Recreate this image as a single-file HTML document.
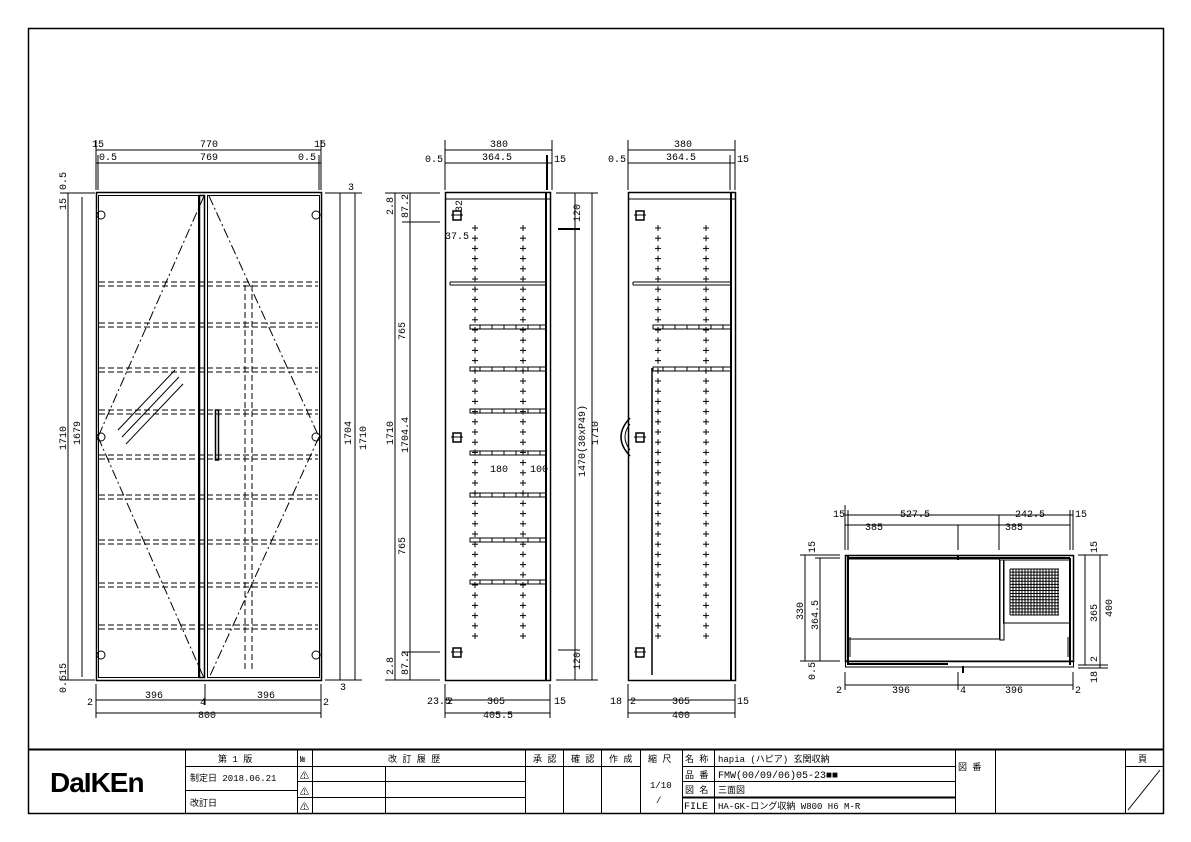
<!DOCTYPE html>
<html><head><meta charset="utf-8"><style>
html,body{margin:0;padding:0;background:#fff;width:1191px;height:842px;overflow:hidden}
svg{display:block}
text{font-family:"Liberation Mono","Noto Sans CJK JP",monospace;font-size:10px;fill:#000}
.t{font-size:9px}
</style></head><body>
<svg id="s" width="1191" height="842" viewBox="0 0 1191 842" xmlns="http://www.w3.org/2000/svg" stroke="#000" fill="none" stroke-width="1">
<rect x="28.5" y="28.5" width="1135" height="785" stroke-width="1.5"/>
<line x1="28" y1="749.5" x2="1163" y2="749.5" stroke-width="2"/>
<line x1="185.5" y1="750" x2="185.5" y2="813"/>
<line x1="297.5" y1="750" x2="297.5" y2="813"/>
<line x1="312.5" y1="750" x2="312.5" y2="813"/>
<line x1="385.5" y1="766" x2="385.5" y2="813"/>
<line x1="525.5" y1="750" x2="525.5" y2="813"/>
<line x1="563.5" y1="750" x2="563.5" y2="813"/>
<line x1="601.5" y1="750" x2="601.5" y2="813"/>
<line x1="640.5" y1="750" x2="640.5" y2="813"/>
<line x1="682.5" y1="750" x2="682.5" y2="813"/>
<line x1="714.5" y1="750" x2="714.5" y2="813"/>
<line x1="955.5" y1="750" x2="955.5" y2="813"/>
<line x1="995.5" y1="750" x2="995.5" y2="813"/>
<line x1="1125.5" y1="750" x2="1125.5" y2="813"/>
<line x1="185" y1="766.5" x2="640" y2="766.5"/>
<line x1="1125" y1="766.5" x2="1163" y2="766.5"/>
<line x1="185" y1="790.5" x2="297" y2="790.5"/>
<line x1="297" y1="781.5" x2="525" y2="781.5"/>
<line x1="297" y1="797.5" x2="525" y2="797.5"/>
<line x1="682" y1="766.5" x2="955" y2="766.5"/>
<line x1="682" y1="781.5" x2="955" y2="781.5"/>
<line x1="682" y1="797.5" x2="955" y2="797.5" stroke-width="2"/>
<line x1="1160" y1="770" x2="1128" y2="810"/>
<g stroke="none">
<text x="50" y="792" style="font-family:'Liberation Sans',sans-serif;font-size:28px;font-weight:bold;letter-spacing:-1px">DaIKEn</text>
<text x="218" y="762" class="t">第 1 版</text>
<text x="300" y="762" class="t">№</text>
<text x="388" y="762" class="t">改 訂 履 歴</text>
<text x="533" y="762" class="t">承 認</text>
<text x="571" y="762" class="t">確 認</text>
<text x="609" y="762" class="t">作 成</text>
<text x="648" y="762" class="t">縮 尺</text>
<text x="685" y="762" class="t">名 称</text>
<text x="718" y="762" class="t">hapia (ハピア) 玄関収納</text>
<text x="958" y="770" class="t">図 番</text>
<text x="1138" y="762" class="t">頁</text>
<text x="190" y="781" class="t">制定日 2018.06.21</text>
<text x="190" y="806" class="t">改訂日</text>
<text x="300" y="779" class="t">⚠</text>
<text x="300" y="795" class="t">⚠</text>
<text x="300" y="810" class="t">⚠</text>
<text x="650" y="788" class="t">1/10</text>
<text x="656" y="803" class="t">/</text>
<text x="685" y="778" class="t">品 番</text>
<text x="718" y="778">FMW(00/09/06)05-23■■</text>
<text x="685" y="793" class="t">図 名</text>
<text x="718" y="793" class="t">三面図</text>
<text x="684" y="809">FILE</text>
<text x="718" y="809" class="t">HA-GK-ロング収納 W800 H6 M-R</text>
</g>
<g id="draw"></g>
</svg>
<script>
var g=document.getElementById('draw'),NS='http://www.w3.org/2000/svg';
function el(t,a,txt){var e=document.createElementNS(NS,t);for(var k in a)e.setAttribute(k,a[k]);if(txt!==undefined)e.textContent=txt;g.appendChild(e);return e;}
function L(x1,y1,x2,y2,w,d){var a={x1:x1,y1:y1,x2:x2,y2:y2};if(w)a['stroke-width']=w;if(d)a['stroke-dasharray']=d;return el('line',a);}
function R(x,y,w,h,sw){return el('rect',{x:x,y:y,width:w,height:h,'stroke-width':sw||1});}
function T(x,y,s,rot){var a={x:x,y:y,stroke:'none','font-size':'10'};if(rot)a.transform='rotate(-90 '+x+' '+y+')';return el('text',a,s);}
R(96.5,192.5,225,488,1.5);
R(98.5,195.5,100,482,1);
R(199.5,195.5,5,482,1.5);
R(207.5,195.5,112,482,1);
[282,323,368,410,455,495,540,583,625].forEach(function(y){L(99,y,318,y,1,'6,3');L(99,y+4,318,y+4,1,'6,3');});
L(245,285,245,672,1,'6,3');L(252,285,252,672,1,'6,3');
L(204,196,98,437,1,'10,3,2,3');L(98,437,204,678,1,'10,3,2,3');
L(209,196,319,437,1,'10,3,2,3');L(319,437,209,678,1,'10,3,2,3');
L(118,430,175,370);L(122,437,179,377);L(126,444,183,384);
R(215.5,410,3,50,1.5);
[[101,215],[101,437],[101,655],[316,215],[316,437],[316,655]].forEach(function(p){el('circle',{cx:p[0],cy:p[1],r:4});});
L(96,150,321,150);L(96,163,321,163);L(96,140,96,190);L(321,140,321,190);L(98,155,98,190);L(319,155,319,190);
T(200,147,'770');T(200,160,'769');T(92,147,'15');T(314,147,'15');T(99,160,'0.5');T(298,160,'0.5');
L(68,193,68,680);L(82,197,82,677);L(60,193,95,193);L(60,680,95,680);
T(66,450,'1710',true);T(80,445,'1679',true);T(66,190,'0.5',true);T(66,210,'15',true);T(66,675,'15',true);T(66,693,'0.5',true);
L(340,193,340,680);L(355,193,355,680);L(325,193,362,193);L(325,680,362,680);
T(351,445,'1704',true);T(366,450,'1710',true);T(348,190,'3');T(340,690,'3');
L(96,700,321,700);L(96,713,321,713);L(96,684,96,718);L(321,684,321,718);L(205,684,205,705);
T(145,698,'396');T(257,698,'396');T(87,705,'2');T(200,705,'4');T(323,705,'2');T(198,718,'800');
function side(x0,w,handle){
 R(x0+0.5,192.5,w,488,1.5);L(x0+w-4,193,x0+w-4,680,2);L(x0,199,x0+w,199);
 L(x0+5,282,x0+w-3,282);L(x0+5,285,x0+w-3,285);L(x0+5,282,x0+5,285);
 var c1=x0+30,c2=x0+78;
 for(var y=228;y<640;y+=10.2){[c1,c2].forEach(function(c){L(c-3,y,c+3,y);L(c,y-3,c,y+3);});}
 [327,369,411,453,495,540,582].forEach(function(y){
   if(handle&&y>372)return;
   var sx=c1-5,ex=x0+w-4;
   R(sx,y-2,ex-sx,4,1);
   for(var x=sx+10;x<ex-4;x+=12)L(x,y-2,x,y+2);
 });
 [215,437,652].forEach(function(y){R(x0+8,y-4,8,9,1.5);L(x0+6,y,x0+18,y);});
}
side(445,105,false);
side(628,107,true);
L(652,368,652,675,1.5);
el('path',{d:'M630 418 Q612 437 630 456','stroke-width':1.5});el('path',{d:'M630 424 Q620 437 630 450'});
L(445,150,552,150);L(445,163,552,163);L(445,140,445,190);L(552,140,552,190);L(547,155,547,190,2);
T(490,147,'380');T(482,160,'364.5');T(425,162,'0.5');T(554,162,'15');
L(395,193,395,680);L(410,193,410,680);L(385,193,440,193);L(385,680,440,680);L(402,222,440,222);L(402,652,440,652);
T(393,215,'2.8',true);T(408,218,'87.2',true);T(405,340,'765',true);T(393,445,'1710',true);T(408,453,'1704.4',true);T(405,555,'765',true);T(393,675,'2.8',true);T(408,675,'87.2',true);
L(575,193,575,680);L(592,193,592,680);L(556,193,598,193);L(556,680,598,680);L(558,229,580,229,2);L(558,650,580,650);
T(580,222,'120',true);T(585,477,'1470(30xP49)',true);T(598,445,'1710',true);T(580,670,'120',true);
T(462,212,'32',true);T(445,239,'37.5');T(490,472,'180');T(530,472,'100');
L(445,700,550,700);L(445,713,550,713);L(445,684,445,718);L(550,684,550,718);
T(487,704,'365');T(483,718,'405.5');T(427,704,'23.5');T(447,704,'2');T(554,704,'15');
L(628,150,735,150);L(628,163,735,163);L(628,140,628,190);L(735,140,735,190);L(730,155,730,190);
T(674,147,'380');T(666,160,'364.5');T(608,162,'0.5');T(737,162,'15');
L(628,700,735,700);L(628,713,735,713);L(628,684,628,718);L(735,684,735,718);
T(672,704,'365');T(672,718,'400');T(610,704,'18');T(630,704,'2');T(737,704,'15');
R(845.5,555.5,228,106,1.5);L(848,558,1070,558,2);L(848,555,848,665,2);L(1070,558,1070,665,2);
R(848.5,559,151,80,1);R(1000,560,4,80,1);R(1003.5,560,67,63,1);
for(var i=0;i<=16;i++){L(1010+i*3,569,1010+i*3,615);}
for(var j=0;j<=15;j++){L(1010,569+j*3.07,1059,569+j*3.07);}
R(845.5,661,228,6,1);L(848,664,948,664,2);
el('path',{d:'M850 637 v20 M1068 637 v20'});
L(958,555,958,560,2);L(963,666,963,673,2);
L(845,515,1073,515);L(845,525,1070,525);L(845,505,845,550);L(848,510,848,550);L(1070,510,1070,550);L(1073,510,1073,550);L(999,515,999,550);L(958,525,958,550);
T(833,517,'15');T(900,517,'527.5');T(1015,517,'242.5');T(1075,517,'15');T(865,530,'385');T(1005,530,'385');
L(805,555,805,661);L(820,558,820,661);L(800,555,840,555);L(800,661,840,661);L(815,558,840,558);
T(803,620,'330',true);T(818,630,'364.5',true);T(815,553,'15',true);T(815,680,'0.5',true);
L(1085,555,1085,665);L(1100,555,1100,668);L(1078,555,1108,555);L(1078,665,1108,665);L(1078,668,1108,668);
T(1097,622,'365',true);T(1112,617,'400',true);T(1097,553,'15',true);T(1097,662,'2',true);T(1097,683,'18',true);
L(845,685,1073,685);L(845,672,845,690);L(958,672,958,690);L(1073,672,1073,690);
T(892,693,'396');T(1005,693,'396');T(836,693,'2');T(960,693,'4');T(1075,693,'2');
</script>
</body></html>
